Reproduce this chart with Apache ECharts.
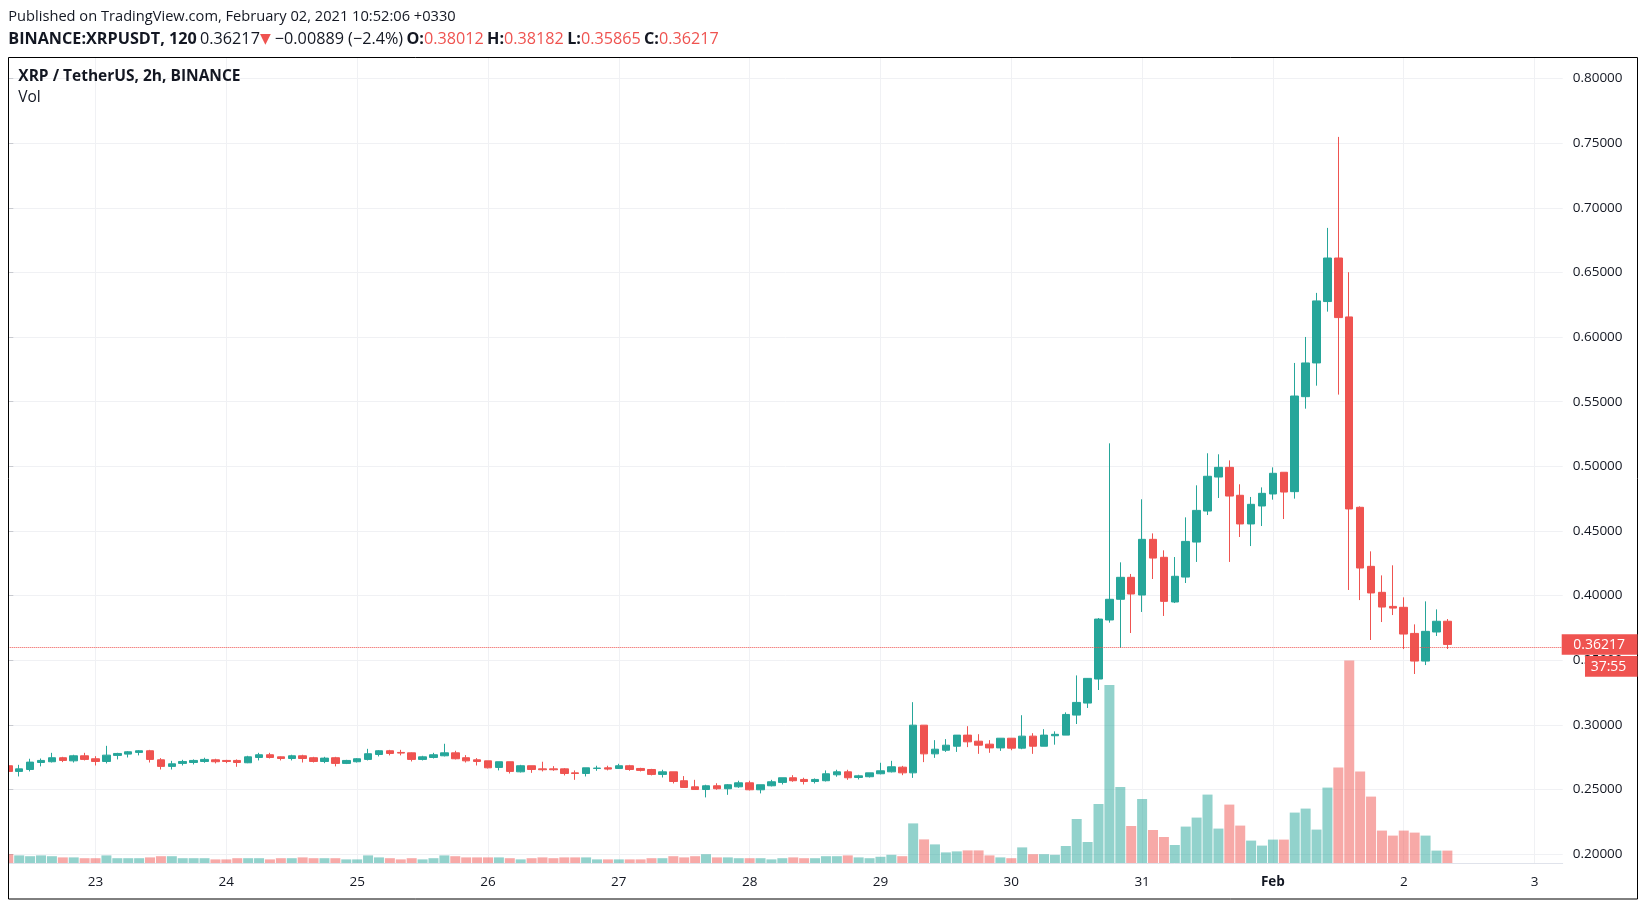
<!DOCTYPE html>
<html><head><meta charset="utf-8">
<script src="https://cdn.jsdelivr.net/npm/echarts@6/dist/echarts.min.js"></script>
<style>html,body{margin:0;padding:0;background:#fff;}#c{width:1646px;height:908px;}</style>
</head><body><div id="c"></div>
<script>
// 2h bars (local time +03:30). Bar index 0 = first visible bar on Jan 22.
const dayLabels = ['23','24','25','26','27','28','29','30','31','Feb','2','3'];
const dayLabelIndex = [8,20,32,44,56,68,80,92,104,116,128,140];
const priceTicks = [0.20,0.25,0.30,0.35,0.40,0.45,0.50,0.55,0.60,0.65,0.70,0.75,0.80];

const open = [
 .2683,.2639,.2654,.2708,.2714,.2745,.2721,.2760,
 .2737,.2716,.2763,.2773,.2786,.2799,.2729,.2678,.2701,.2708,.2716,.2729,
 .2724,.2724,.2706,.2747,.2768,.2752,.2739,.2760,.2745,.2716,.2745,.2701,
 .2714,.2732,.2770,.2799,.2786,.2783,.2732,.2747,.2760,.2783,.2745,.2729,
 .2721,.2670,.2714,.2636,.2683,.2659,.2659,.2659,.2628,.2623,.2662,.2667,
 .2662,.2683,.2662,.2654,.2616,.2636,.2567,.2520,.2499,.2528,.2505,.2520,
 .2551,.2497,.2528,.2554,.2590,.2577,.2561,.2567,.2613,.2636,.2592,.2598,
 .2621,.2636,.2672,.2628,.2997,.2775,.2803,.2834,.2920,.2873,.2850,.2821,
 .2896,.2819,.2912,.2834,.2915,.2920,.3075,.3168,.3354,.3811,.3971,.4141,
 .4004,.4435,.4296,.3950,.4143,.4414,.4654,.4917,.4992,.4776,.4554,.4693,
 .4786,.4954,.4804,.5539,.5800,.6275,.6612,.6156,.4683,.4226,.4025,.3916,
 .3909,.3707,.3493,.3718,.38012
];
const close = [
 .2639,.2659,.2711,.2724,.2745,.2724,.2760,.2732,
 .2716,.2765,.2778,.2791,.2799,.2732,.2678,.2698,.2716,.2724,.2732,.2714,
 .2716,.2708,.2752,.2768,.2747,.2739,.2760,.2739,.2716,.2742,.2701,.2724,
 .2737,.2776,.2799,.2778,.2781,.2732,.2752,.2768,.2783,.2737,.2721,.2716,
 .2667,.2714,.2639,.2683,.2654,.2652,.2652,.2623,.2623,.2667,.2665,.2657,
 .2683,.2654,.2647,.2616,.2636,.2561,.2515,.2499,.2528,.2505,.2536,.2551,
 .2497,.2536,.2559,.2590,.2567,.2561,.2577,.2621,.2636,.2590,.2605,.2628,
 .2644,.2675,.2628,.2997,.2775,.2811,.2842,.2920,.2868,.2842,.2821,.2896,
 .2819,.2912,.2834,.2920,.2926,.3080,.3173,.3359,.3818,.3971,.4141,.4012,
 .4435,.4290,.3955,.4149,.4419,.4659,.4923,.4992,.4770,.4554,.4706,.4791,
 .4946,.4801,.5544,.5800,.6280,.6612,.6151,.4670,.4213,.4020,.3911,.3903,
 .3702,.3493,.3723,.3801,.36217
];
const low = [
 .2613,.2600,.2639,.2678,.2708,.2711,.2708,.2724,
 .2685,.2701,.2732,.2747,.2763,.2708,.2654,.2654,.2685,.2693,.2706,.2701,
 .2703,.2675,.2703,.2724,.2739,.2724,.2724,.2708,.2708,.2703,.2678,.2696,
 .2708,.2724,.2755,.2763,.2763,.2716,.2724,.2739,.2755,.2732,.2708,.2685,
 .2662,.2647,.2623,.2631,.2628,.2639,.2644,.2608,.2574,.2600,.2644,.2647,
 .2659,.2644,.2639,.2608,.2592,.2546,.2515,.2499,.2438,.2497,.2458,.2512,
 .2492,.2469,.2523,.2538,.2559,.2538,.2546,.2561,.2598,.2574,.2577,.2592,
 .2616,.2631,.2610,.2589,.2711,.2744,.2790,.2790,.2827,.2775,.2783,.2798,
 .2803,.2811,.2775,.2834,.2846,.2920,.3006,.3130,.3269,.3790,.3594,.3710,
 .3873,.4128,.3842,.3942,.4097,.4260,.4623,.4755,.4260,.4453,.4383,.4538,
 .4742,.4592,.4750,.5446,.5624,.6197,.5555,.4043,.3965,.3656,.3795,.3849,
 .3586,.3393,.3462,.3687,.35865
];
const high = [
 .2703,.2690,.2737,.2739,.2783,.2752,.2768,.2783,
 .2757,.2837,.2783,.2796,.2804,.2806,.2742,.2721,.2729,.2732,.2745,.2737,
 .2729,.2732,.2760,.2783,.2783,.2755,.2768,.2768,.2752,.2752,.2752,.2729,
 .2742,.2814,.2804,.2806,.2806,.2786,.2760,.2783,.2853,.2799,.2765,.2742,
 .2721,.2714,.2714,.2690,.2683,.2714,.2680,.2665,.2647,.2667,.2683,.2683,
 .2698,.2690,.2667,.2659,.2652,.2636,.2603,.2574,.2536,.2548,.2541,.2567,
 .2567,.2536,.2574,.2590,.2610,.2590,.2585,.2647,.2652,.2652,.2613,.2628,
 .2706,.2721,.2682,.3175,.2997,.2881,.2889,.2920,.2989,.2927,.2881,.2896,
 .2896,.3074,.2935,.2966,.2949,.3096,.3382,.3361,.3826,.5178,.4257,.4167,
 .4745,.4481,.4350,.4298,.4605,.4853,.5101,.5093,.5046,.4861,.4763,.4837,
 .4992,.4954,.5800,.6001,.6342,.6845,.7549,.6502,.4690,.4342,.4156,.4234,
 .3986,.3777,.3955,.3893,.38182
];
// volume, millions of XRP (estimated; no scale shown)
const volume = [
 44,38,34,38,34,28,28,24,
 24,38,24,24,24,28,34,34,24,24,24,18,
 18,24,24,24,18,24,24,28,24,24,24,18,
 18,38,28,24,18,24,18,24,38,34,28,28,
 28,28,24,18,24,28,24,28,28,28,18,18,
 18,18,18,24,24,34,28,34,44,28,28,24,
 24,24,18,24,28,24,24,34,34,38,28,24,
 31,41,34,198,118,93,53,58,63,63,38,28,
 24,78,44,44,41,85,220,105,295,890,380,185,
 320,165,130,90,182,227,342,172,292,187,112,87,
 117,117,252,272,167,377,477,1012,457,332,162,137,
 162,152,137,62,62
];
const lastPrice = close[close.length-1];
const countdown = '37:55';

const UP = '#26a69a', DOWN = '#ef5350';
const FONT = "'Open Sans', 'Noto Sans', sans-serif";
const TXT = '#131722';

const candleData = open.map((o,i)=>[i, o, close[i], low[i], high[i]]);
const volData = volume.map((v,i)=>({
  value:[i, v],
  itemStyle:{color: close[i] >= open[i] ? 'rgba(38,166,154,0.5)' : 'rgba(239,83,80,0.5)'}
}));

const chart = echarts.init(document.getElementById('c'), null, {renderer:'canvas'});

const GL = 8.3, GT = 57.7, GR = 1562.7, GB = 863;

function t(id, x, y, text, size, color, bold){
  return {id:id, type:'text', x:x, y:y, z:100, style:{text:text, font:(bold?'bold ':'')+size+'px '+FONT, fill:color, verticalAlign:'middle', align:'left'}};
}
function baseGraphics(){
  const L2 = 16.2;
  const rs = (w, c, s, f) => ({fontFamily:f||FONT, fontSize:s||L2, fontWeight:w, fill:c, color:c});
  return [
    {id:'mask', type:'rect', z:99, shape:{x:0, y:50, width:8.3, height:830}, style:{fill:'#fff'}},
    t('pub', 8.3, 17, 'Published on TradingView.com, February 02, 2021 10:52:06 +0330', 14.65, TXT),
    {id:'sym', type:'text', x:8.3, y:39.5, z:100, style:{
      verticalAlign:'middle', align:'left',
      text:'{b|BINANCE:XRPUSDT, 120} {n|0.36217}{t|▼}{n| −0.00889 (−2.4%)} {b|O:}{r|0.38012} {b|H:}{r|0.38182} {b|L:}{r|0.35865} {b|C:}{r|0.36217}',
      rich:{ b:rs('bold',TXT), n:rs('normal',TXT), r:rs('normal',DOWN), t:rs('normal',DOWN,14,"'DejaVu Sans', sans-serif") }}},
    t('leg1', 18.3, 76.7, 'XRP / TetherUS, 2h, BINANCE', 15.5, TXT, true),
    t('leg2', 18.3, 97.7, 'Vol', 15.5, TXT),
    {id:'frame', type:'rect', z:101, shape:{x:8.5, y:57.5, width:1629, height:841.5}, style:{fill:'none', stroke:'#000', lineWidth:1}}
  ];
}

const option = {
  animation:false,
  backgroundColor:'#fff',
  grid:{left:GL, top:GT, right:1646-GR, bottom:908-GB, containLabel:false},
  xAxis:{
    type:'value', min:0, max:142.58,
    axisLine:{show:true, lineStyle:{color:'#e0e3eb'}},
    axisTick:{show:false, customValues:dayLabelIndex},
    axisLabel:{customValues:dayLabelIndex, margin:12, color:TXT, fontFamily:FONT, fontSize:13.5,
      formatter:function(v){ const k = dayLabelIndex.indexOf(Math.round(v)); const s = k>=0?dayLabels[k]:''; return s==='Feb' ? '{b|Feb}' : s; },
      rich:{b:{fontWeight:'bold', fontFamily:FONT, fontSize:13.5, color:TXT}}},
    splitLine:{show:true, lineStyle:{color:'#f0f1f4', width:1}}
  },
  yAxis:[
    {type:'value', position:'right', min:0.19304, max:0.8162, scale:true,
     axisLine:{show:true, lineStyle:{color:'#e0e3eb'}},
     axisTick:{show:true, length:5, customValues:priceTicks, lineStyle:{color:'#c8cad0'}},
     axisLabel:{customValues:priceTicks, margin:10, color:TXT, fontFamily:FONT, fontSize:13.5, padding:[5,0,0,0],
       formatter:function(v){return v.toFixed(5);}},
     splitLine:{show:true, lineStyle:{color:'#f0f1f4', width:1}}},
    {type:'value', min:0, max:4026, show:false, splitLine:{show:false}}
  ],
  series:[
    {type:'bar', name:'Vol', xAxisIndex:0, yAxisIndex:1, data:volData, barWidth:10, z:1, silent:true},
    {type:'candlestick', name:'XRPUSDT', xAxisIndex:0, yAxisIndex:0, data:candleData, barWidth:8, z:2,
     itemStyle:{color:UP, color0:DOWN, borderColor:UP, borderColor0:DOWN, borderWidth:1},
     markLine:{symbol:['none','none'], silent:true, animation:false, label:{show:false},
       lineStyle:{color:DOWN, type:'dotted', width:1}, data:[{yAxis:lastPrice}]}}
  ],
  graphic: baseGraphics()
};
chart.setOption(option);

const yLast = chart.convertToPixel({yAxisIndex:0}, lastPrice);
const g = baseGraphics();
g.push(
  {id:'pbox', type:'rect', z:102, shape:{x:GR-1, y:yLast-10.3, width:1637.5-GR+1, height:20.6}, style:{fill:DOWN}},
  {id:'ptxt', type:'text', z:103, x:GR+10.6, y:yLast+0.5, style:{text:lastPrice.toFixed(5), font:'14px '+FONT, fill:'#fff', verticalAlign:'middle', align:'left'}},
  {id:'cbox', type:'rect', z:102, shape:{x:1585, y:yLast+11.5, width:52.5, height:20.7}, style:{fill:DOWN}},
  {id:'ctxt', type:'text', z:103, x:1608.5, y:yLast+22.3, style:{text:countdown, font:'14px '+FONT, fill:'#fff', verticalAlign:'middle', align:'center'}}
);
chart.setOption({graphic:g});
</script>
</body></html>
